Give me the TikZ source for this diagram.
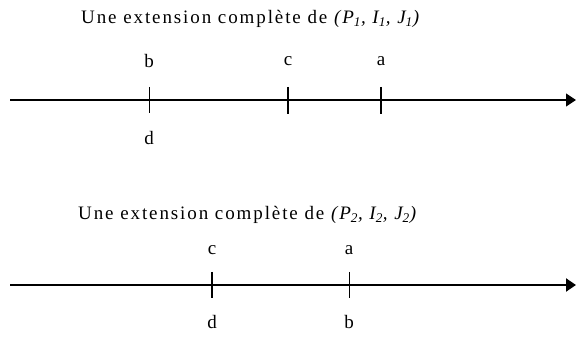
\documentclass[tikz,border=0pt]{standalone}
\usepackage{fontspec}
\setmainfont{Liberation Serif}
\newfontfamily\ttlfont[LetterSpace=10]{Liberation Serif}
\usetikzlibrary{arrows.meta}
\begin{document}
\begin{tikzpicture}[x=1pt,y=1pt,
  lbl/.style={font=\fontsize{19}{21}\selectfont, inner sep=0pt},
  ttl/.style={font=\ttlfont\fontsize{19}{21}\selectfont, inner sep=0pt, anchor=base west},
  axis/.style={-{Triangle[length=10pt,width=13pt]}},
  thintick/.style={line width=1pt},
  thicktick/.style={line width=2.6pt}]
\useasboundingbox (0,0) rectangle (576,337);
% top
\node[ttl] (t1) at (81,313) {Une extension complète de \textit{(P\textsubscript{1}, I\textsubscript{1}, J\textsubscript{1})}};
\coordinate (s1) at (10,237);
\coordinate (e1) at (576,237);
\draw[axis, line width=1.2pt] (s1) -- (e1);
\coordinate (k1a) at (149,250); \coordinate (k1b) at (149,224);
\coordinate (k2a) at (288,250); \coordinate (k2b) at (288,223);
\coordinate (k3a) at (381,250); \coordinate (k3b) at (381,223);
\draw[thintick] (k1a) -- (k1b);
\draw[thicktick] (k2a) -- (k2b);
\draw[thicktick] (k3a) -- (k3b);
\node[lbl] (b1) at (149,276) {b};
\node[lbl] (c1) at (288,276) {c};
\node[lbl] (a1) at (381,276) {a};
\node[lbl] (d1) at (149,199) {d};
% bottom
\node[ttl] (t2) at (78,117) {Une extension complète de \textit{(P\textsubscript{2}, I\textsubscript{2}, J\textsubscript{2})}};
\coordinate (s2) at (10,52);
\coordinate (e2) at (576,52);
\draw[axis, line width=2pt] (s2) -- (e2);
\coordinate (m1a) at (212,65); \coordinate (m1b) at (212,39);
\coordinate (m2a) at (349,65); \coordinate (m2b) at (349,39);
\draw[thicktick] (m1a) -- (m1b);
\draw[thintick] (m2a) -- (m2b);
\node[lbl] (c2) at (212,87) {c};
\node[lbl] (a2) at (349,87) {a};
\node[lbl] (d2) at (212,15) {d};
\node[lbl] (b2) at (349,15) {b};
\end{tikzpicture}
\end{document}
